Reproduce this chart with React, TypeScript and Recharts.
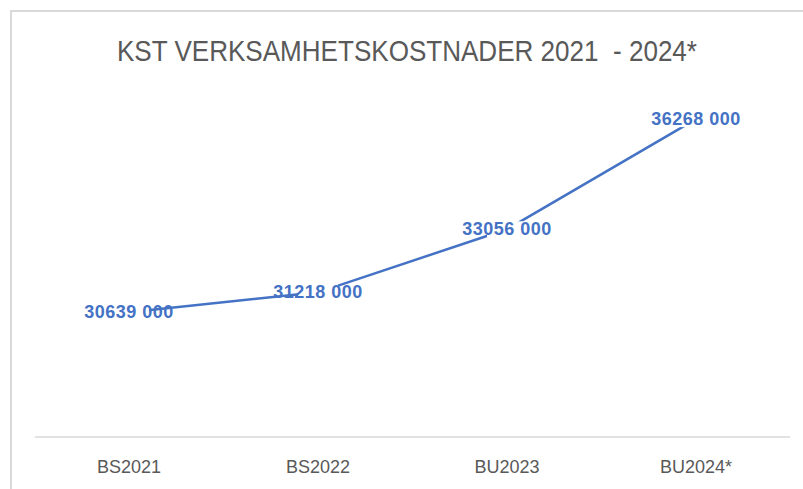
import React from 'react';
import { LineChart, Line, XAxis, YAxis, LabelList } from 'recharts';

const categories = ['BS2021', 'BS2022', 'BU2023', 'BU2024*'];
const costs = [30639000, 31218000, 33056000, 36268000];
const yDomain = [27000000, 37000000];

const data = categories.map((name, i) => ({ name, value: costs[i] }));

const BLUE = '#4472C4';
const GRAY = '#595959';
const FONT = '"Liberation Sans", Arial, sans-serif';

function fmt(v: number) {
    return `${Math.floor(v / 1000)} ${String(v % 1000).padStart(3, '0')}`;
}

// white box behind each label, hides the line around the point like the original
function Gap(props: any) {
    const { cx, cy, index } = props;
    return <rect key={`gap-${index}`} x={cx - 20} y={cy - 8} width={40} height={16} fill="#fff" />;
}

function ValueLabel(props: any) {
    const { x, y, value } = props;
    return (
        <text
            x={x}
            y={y}
            textAnchor="middle"
            dominantBaseline="central"
            fill={BLUE}
            fontFamily={FONT}
            fontWeight="bold"
            fontSize={18}
            letterSpacing={0.5}
        >
            {fmt(value)}
        </text>
    );
}

export default function App() {
    return (
        <div style={{ position: 'fixed', left: 0, top: 0, width: 803, height: 489, background: '#fff', overflow: 'hidden' }}>
            <div
                style={{
                    position: 'absolute',
                    left: 10,
                    top: 10,
                    right: 0,
                    bottom: 0,
                    borderLeft: '2px solid #D9D9D9',
                    borderTop: '2px solid #D9D9D9',
                }}
            />
            <svg width={803} height={90} style={{ position: 'absolute', left: 0, top: 0 }}>
                <text
                    x={407}
                    y={61}
                    textAnchor="middle"
                    fill={GRAY}
                    fontFamily={FONT}
                    fontSize={30}
                    textLength={580}
                    lengthAdjust="spacingAndGlyphs"
                    style={{ whiteSpace: 'pre' }}
                >
                    KST VERKSAMHETSKOSTNADER 2021  - 2024*
                </text>
            </svg>
            <div style={{ position: 'absolute', left: 0, top: 0 }}>
                <LineChart width={803} height={489} data={data} margin={{ top: 94, right: 13, left: 35, bottom: 22 }}>
                    <XAxis
                        dataKey="name"
                        height={30}
                        padding={{ left: 94, right: 94 }}
                        axisLine={{ stroke: '#D9D9D9', strokeWidth: 1.5 }}
                        tickLine={false}
                        tickMargin={17}
                        tick={{ fill: GRAY, fontSize: 18, fontFamily: FONT }}
                        interval={0}
                    />
                    <YAxis hide domain={yDomain} />
                    <Line
                        type="linear"
                        dataKey="value"
                        stroke={BLUE}
                        strokeWidth={2.5}
                        dot={(p: any) => <Gap {...p} />}
                        activeDot={false}
                        isAnimationActive={false}
                    >
                        <LabelList dataKey="value" content={(p: any) => <ValueLabel {...p} />} />
                    </Line>
                </LineChart>
            </div>
        </div>
    );
}
